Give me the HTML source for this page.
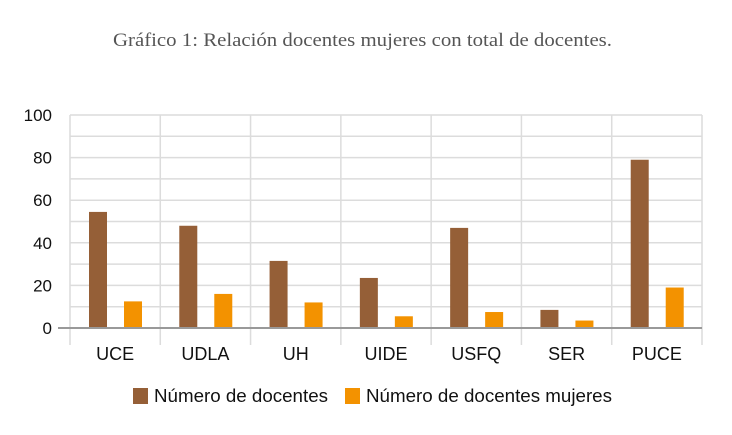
<!DOCTYPE html>
<html><head><meta charset="utf-8"><style>
body{margin:0;background:#fff;width:732px;height:430px;overflow:hidden}
svg text{font-family:"Liberation Sans",sans-serif;fill:#111}
</style></head><body>
<svg id="chart" width="732" height="430" xmlns="http://www.w3.org/2000/svg">
<text x="113" y="46" textLength="499" lengthAdjust="spacingAndGlyphs" style="font-family:'Liberation Serif',serif;font-size:19px;fill:#555">Gráfico 1: Relación docentes mujeres con total de docentes.</text>
<g id="grid"></g><g id="bars"></g><g id="axes"></g>
<g>
<rect x="133" y="388" width="15" height="16" fill="#955f37"/>
<text x="154" y="402" style="font-size:18px" textLength="174" lengthAdjust="spacingAndGlyphs">Número de docentes</text>
<rect x="345" y="388" width="15" height="16" fill="#f39200"/>
<text x="366" y="402" style="font-size:18px" textLength="246" lengthAdjust="spacingAndGlyphs">Número de docentes mujeres</text>
</g>
</svg>
<script>
const categories=["UCE","UDLA","UH","UIDE","USFQ","SER","PUCE"];
const docentes=[54.5,48,31.5,23.5,47,8.5,79];
const mujeres=[12.5,16,12,5.5,7.5,3.5,19];
const yTicks=[0,20,40,60,80,100];
const NS="http://www.w3.org/2000/svg";
const x0=70,x1=702,y0=328,yTop=115,yMax=100;
const bw=(x1-x0)/categories.length;
const y=v=>y0-(v/yMax)*(y0-yTop);
function mk(t,a,p){const e=document.createElementNS(NS,t);for(const k in a)e.setAttribute(k,a[k]);p.appendChild(e);return e;}
const grid=document.getElementById('grid'),bars=document.getElementById('bars'),axes=document.getElementById('axes');
for(let v=0;v<=yMax;v+=10){if(v===0)continue;const l=mk('line',{x1:x0,x2:x1,y1:y(v),y2:y(v),stroke:'#dcdcdc','stroke-width':1.5},grid);

}
for(let i=0;i<=categories.length;i++){const l=mk('line',{x1:x0+i*bw,x2:x0+i*bw,y1:yTop,y2:345,stroke:'#dcdcdc','stroke-width':1.5},grid);

}
yTicks.forEach(v=>{const t=mk('text',{x:52,y:y(v)+6,'text-anchor':'end','font-size':17},axes);t.textContent=v;

});
categories.forEach((c,i)=>{
const cx=x0+i*bw;
const b1=mk('rect',{x:cx+19,y:y(docentes[i]),width:18,height:y0-y(docentes[i]),fill:'#955f37'},bars);


const b2=mk('rect',{x:cx+54,y:y(mujeres[i]),width:18,height:y0-y(mujeres[i]),fill:'#f39200'},bars);


const t=mk('text',{x:cx+bw/2,y:360,'text-anchor':'middle','font-size':18},axes);t.textContent=c;


});
const ax=mk('line',{x1:58,x2:x1,y1:y0,y2:y0,stroke:'#999','stroke-width':2},axes);


</script>
</body></html>
